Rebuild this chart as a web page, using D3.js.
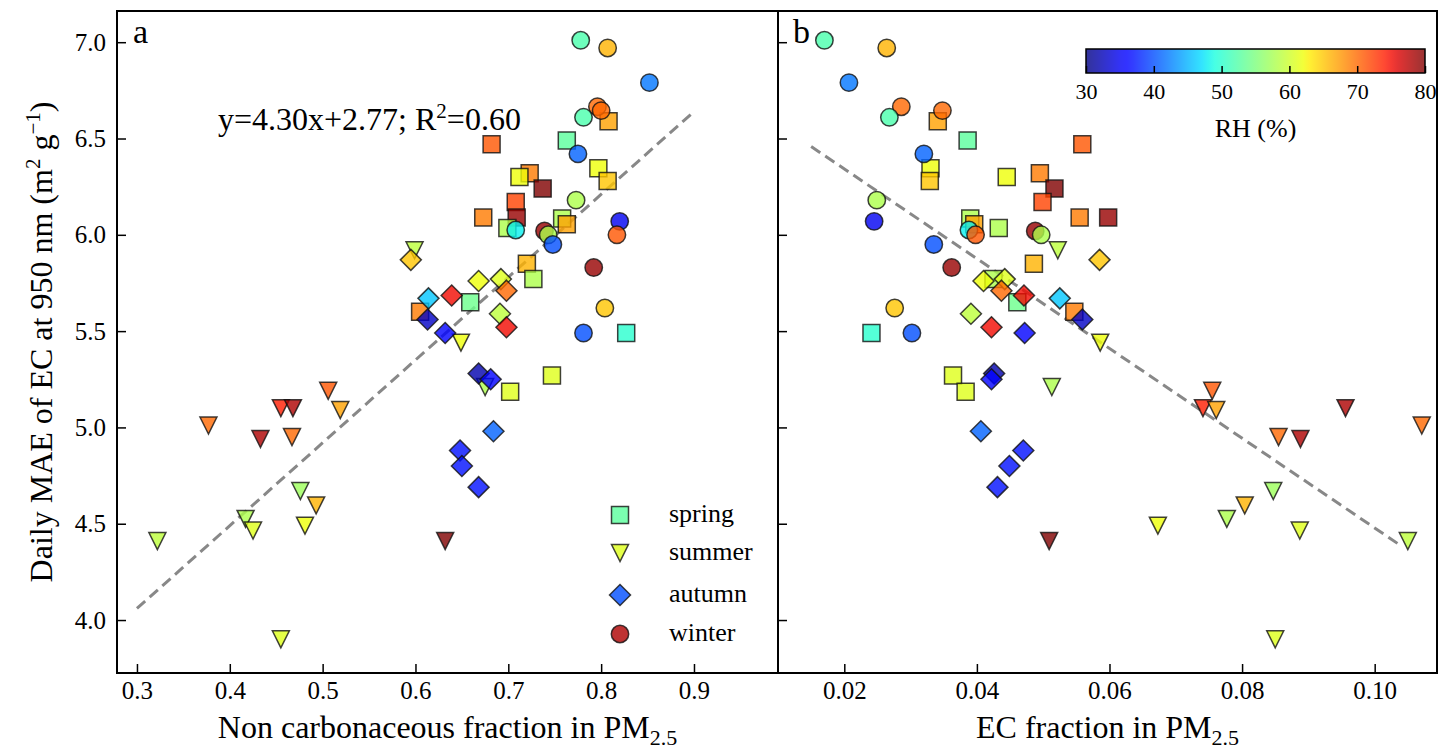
<!DOCTYPE html>
<html>
<head>
<meta charset="utf-8">
<script src="https://cdn.jsdelivr.net/npm/d3@7"></script>
<style>
  body { margin: 0; background: #fff; }
  svg { display: block; font-family: "Liberation Serif", "Times New Roman", serif; }
</style>
</head>
<body>
<svg id="chart" width="1439" height="754"></svg>
<script>
// ---- data: one entry per day, grouped by season ----
const seasons = ["spring", "summer", "autumn", "winter"];

const springNonCarb = [0.808, 0.682, 0.763, 0.797, 0.807, 0.723, 0.712, 0.737, 0.708, 0.673, 0.709, 0.699, 0.758, 0.763, 0.720, 0.727, 0.827, 0.659, 0.605, 0.747, 0.702];
const springEC      = [0.0341, 0.0559, 0.0386, 0.0330, 0.0329, 0.0495, 0.0445, 0.0517, 0.0499, 0.0555, 0.0598, 0.0433, 0.0390, 0.0396, 0.0486, 0.0425, 0.0241, 0.0461, 0.0547, 0.0364, 0.0383];
const springMAE     = [6.59, 6.47, 6.49, 6.345, 6.28, 6.32, 6.30, 6.24, 6.17, 6.09, 6.09, 6.035, 6.085, 6.055, 5.85, 5.77, 5.49, 5.65, 5.60, 5.27, 5.185];
const springRH      = [67, 71, 53, 62, 65, 69, 62, 80, 72, 69, 79, 58, 58, 67, 66, 58, 50, 54, 69, 61, 61];

const summerNonCarb = [0.599, 0.649, 0.675, 0.322, 0.377, 0.433, 0.455, 0.468, 0.467, 0.506, 0.519, 0.476, 0.493, 0.417, 0.425, 0.481, 0.455, 0.632];
const summerEC      = [0.0522, 0.0586, 0.0513, 0.1050, 0.1071, 0.0888, 0.0741, 0.0956, 0.0855, 0.0755, 0.0761, 0.0847, 0.0804, 0.0777, 0.0887, 0.0673, 0.0850, 0.0509];
const summerMAE     = [5.92, 5.44, 5.21, 4.41, 5.01, 4.94, 5.10, 5.10, 4.95, 5.19, 5.09, 4.67, 4.595, 4.525, 4.465, 4.49, 3.90, 4.41];
const summerRH      = [59, 62, 58, 59, 70, 78, 74, 78, 70, 71, 67, 57, 66, 58, 61, 62, 61, 80];

const autumnNonCarb = [0.595, 0.614, 0.613, 0.639, 0.632, 0.668, 0.692, 0.698, 0.691, 0.698, 0.668, 0.681, 0.684, 0.648, 0.650, 0.668];
const autumnEC      = [0.0585, 0.0525, 0.0559, 0.0471, 0.0472, 0.0410, 0.0442, 0.0437, 0.0391, 0.0422, 0.0426, 0.0422, 0.0406, 0.0470, 0.0449, 0.0431];
const autumnMAE     = [5.87, 5.67, 5.56, 5.685, 5.49, 5.76, 5.77, 5.71, 5.59, 5.52, 5.28, 5.25, 4.98, 4.88, 4.80, 4.69];
const autumnRH      = [65, 46, 33, 75, 36, 62, 61, 70, 59, 75, 32, 36, 41, 37, 37, 37];

const winterNonCarb = [0.778, 0.807, 0.852, 0.796, 0.800, 0.781, 0.775, 0.773, 0.820, 0.708, 0.817, 0.739, 0.743, 0.748, 0.792, 0.804, 0.781];
const winterEC      = [0.0170, 0.0264, 0.0207, 0.0286, 0.0348, 0.0268, 0.0320, 0.0249, 0.0245, 0.0388, 0.0398, 0.0488, 0.0497, 0.0335, 0.0362, 0.0276, 0.0302];
const winterMAE     = [7.01, 6.97, 6.79, 6.665, 6.645, 6.61, 6.42, 6.18, 6.07, 6.025, 6.00, 6.02, 6.00, 5.95, 5.83, 5.62, 5.49];
const winterRH      = [52, 66, 42, 70, 70, 52, 41, 58, 35, 48, 71, 79, 58, 40, 79, 65, 40];

// legend swatch RH values
const legendRH = [53, 61, 40, 78];

// tick labels
const yTicks = [4.0, 4.5, 5.0, 5.5, 6.0, 6.5, 7.0];
const xTicksA = [0.3, 0.4, 0.5, 0.6, 0.7, 0.8, 0.9];
const xTicksB = [0.02, 0.04, 0.06, 0.08, 0.10];
const rhTicks = [30, 40, 50, 60, 70, 80];

// least-squares fits
const fitA = { slope: 4.30, intercept: 2.77, from: 0.30, to: 0.90 };
const fitB = { slope: -23.3, intercept: 6.808, from: 0.015, to: 0.104 };

// ---- assemble records ----
const seasonData = {
  spring: [springNonCarb, springEC, springMAE, springRH],
  summer: [summerNonCarb, summerEC, summerMAE, summerRH],
  autumn: [autumnNonCarb, autumnEC, autumnMAE, autumnRH],
  winter: [winterNonCarb, winterEC, winterMAE, winterRH]
};
const records = [];
seasons.forEach(s => {
  const [nc, ec, mae, rh] = seasonData[s];
  nc.forEach((v, i) => records.push({ season: s, nonCarb: v, ec: ec[i], mae: mae[i], rh: rh[i] }));
});

// ---- jet colormap ----
function piece(pts, t) {
  for (let i = 1; i < pts.length; i++) {
    if (t <= pts[i][0]) {
      const [x0, y0] = pts[i - 1], [x1, y1] = pts[i];
      return y0 + (y1 - y0) * (t - x0) / (x1 - x0);
    }
  }
  return pts[pts.length - 1][1];
}
function jet(t) {
  t = Math.max(0, Math.min(1, t));
  const r = piece([[0, 0], [0.35, 0], [0.66, 1], [0.89, 1], [1, 0.5]], t);
  const g = piece([[0, 0], [0.125, 0], [0.375, 1], [0.64, 1], [0.91, 0], [1, 0]], t);
  const b = piece([[0, 0.5], [0.11, 1], [0.34, 1], [0.65, 0], [1, 0]], t);
  return d3.rgb(r * 255, g * 255, b * 255).formatHex();
}
const rhScale = d3.scaleLinear().domain([30, 80]).range([0, 1]).clamp(true);
const rhColor = v => jet(rhScale(v));

// ---- layout ----
const FONT = '"Liberation Serif", "Times New Roman", serif';
const svg = d3.select("#chart");
const plotTop = 11, plotBottom = 673;
const panelA = { x0: 117, x1: 778 };
const panelB = { x0: 778, x1: 1437 };

const y = d3.scaleLinear().domain([3.725, 7.162]).range([plotBottom, plotTop]);
const xA = d3.scaleLinear().domain([0.2785, 0.9905]).range([panelA.x0, panelA.x1]);
const xB = d3.scaleLinear().domain([0.0100, 0.1094]).range([panelB.x0, panelB.x1]);

// marker shapes
const circlePath = d3.path();
circlePath.arc(0, 0, 8.7, 0, 2 * Math.PI);
const markerPath = {
  spring: "M-8.5,-8.5h17v17h-17Z",
  summer: "M0,8.5L-8.5,-8.5L8.5,-8.5Z",
  autumn: "M0,-10.5L10.5,0L0,10.5L-10.5,0Z",
  winter: circlePath.toString() + "Z"
};

const defs = svg.append("defs");
[["clipA", panelA], ["clipB", panelB]].forEach(([id, p]) => {
  defs.append("clipPath").attr("id", id)
    .append("rect").attr("x", p.x0).attr("y", plotTop).attr("width", p.x1 - p.x0).attr("height", plotBottom - plotTop);
});

function styleAxis(g, size = 25) {
  g.attr("font-family", FONT).attr("font-size", size);
  g.select(".domain").remove();
  g.selectAll(".tick line").attr("stroke", "#000").attr("stroke-width", 1.5);
  g.selectAll(".tick text").attr("fill", "#000");
}

// ---- axes ----
svg.append("g").attr("transform", `translate(0,${plotBottom})`)
  .call(d3.axisBottom(xA).tickValues(xTicksA).tickFormat(d3.format(".1f")).tickSizeInner(-9).tickSizeOuter(0).tickPadding(8))
  .call(styleAxis);
svg.append("g").attr("transform", `translate(0,${plotBottom})`)
  .call(d3.axisBottom(xB).tickValues(xTicksB).tickFormat(d3.format(".2f")).tickSizeInner(-9).tickSizeOuter(0).tickPadding(8))
  .call(styleAxis);
svg.append("g").attr("transform", `translate(${panelA.x0},0)`)
  .call(d3.axisLeft(y).tickValues(yTicks).tickFormat(d3.format(".1f")).tickSizeInner(-9).tickSizeOuter(0).tickPadding(11))
  .call(styleAxis);
svg.append("g").attr("transform", `translate(${panelB.x0},0)`)
  .call(d3.axisLeft(y).tickValues(yTicks).tickFormat("").tickSizeInner(-9).tickSizeOuter(0))
  .call(styleAxis);

// ---- regression lines ----
function fitLine(x, fit, clip) {
  svg.append("line")
    .attr("clip-path", `url(#${clip})`)
    .attr("x1", x(fit.from)).attr("y1", y(fit.slope * fit.from + fit.intercept))
    .attr("x2", x(fit.to)).attr("y2", y(fit.slope * fit.to + fit.intercept))
    .attr("stroke", "#888").attr("stroke-width", 3).attr("stroke-dasharray", "11,6");
}
fitLine(xA, fitA, "clipA");
fitLine(xB, fitB, "clipB");

// ---- scatter ----
function scatter(x, key, clip) {
  svg.append("g").attr("clip-path", `url(#${clip})`)
    .selectAll("path").data(records).join("path")
    .attr("d", d => markerPath[d.season])
    .attr("transform", d => `translate(${x(d[key])},${y(d.mae)})`)
    .attr("fill", d => rhColor(d.rh)).attr("fill-opacity", 0.8)
    .attr("stroke", "#111").attr("stroke-opacity", 0.8).attr("stroke-width", 1.5);
}
scatter(xA, "nonCarb", "clipA");
scatter(xB, "ec", "clipB");

// ---- frames ----
[panelA, panelB].forEach(p => {
  svg.append("rect").attr("x", p.x0).attr("y", plotTop).attr("width", p.x1 - p.x0).attr("height", plotBottom - plotTop)
    .attr("fill", "none").attr("stroke", "#000").attr("stroke-width", 2);
});

// ---- panel labels and fit equation ----
svg.append("text").attr("x", 133).attr("y", 43).style("font-size", "34px").text("a");
svg.append("text").attr("x", 793).attr("y", 43).style("font-size", "34px").text("b");

const eq = svg.append("text").attr("x", 218).attr("y", 130).style("font-size", "32px");
eq.append("tspan").text(`y=${fitA.slope.toFixed(2)}x+${fitA.intercept.toFixed(2)}; R`);
eq.append("tspan").attr("dy", -12).style("font-size", "21px").text("2");
eq.append("tspan").attr("dy", 12).text("=0.60");

// ---- axis titles ----
function subTitle(xc, main) {
  const t = svg.append("text").attr("x", xc).attr("y", 738).attr("text-anchor", "middle").style("font-size", "32px");
  t.append("tspan").text(main);
  t.append("tspan").attr("dy", 7).style("font-size", "22px").text("2.5");
}
subTitle((panelA.x0 + panelA.x1) / 2, "Non carbonaceous fraction in PM");
subTitle((panelB.x0 + panelB.x1) / 2, "EC fraction in PM");

const yl = svg.append("text").attr("transform", `translate(52,${(plotTop + plotBottom) / 2}) rotate(-90)`)
  .attr("text-anchor", "middle").style("font-size", "32px");
yl.append("tspan").text("Daily MAE of EC at 950 nm (m");
yl.append("tspan").attr("dy", -12).style("font-size", "21px").text("2");
yl.append("tspan").attr("dy", 12).text(" g");
yl.append("tspan").attr("dy", -12).style("font-size", "21px").text("\u22121");
yl.append("tspan").attr("dy", 12).text(")");

// ---- season legend ----
const legendY = [515, 553, 595, 634];
const legend = svg.append("g");
seasons.forEach((s, i) => {
  legend.append("path").attr("d", markerPath[s])
    .attr("transform", `translate(620,${legendY[i]})`)
    .attr("fill", rhColor(legendRH[i])).attr("fill-opacity", 0.8)
    .attr("stroke", "#111").attr("stroke-opacity", 0.8).attr("stroke-width", 1.5);
  legend.append("text").attr("x", 669).attr("y", legendY[i] + 7).style("font-size", "26px").text(s);
});

// ---- RH colour bar ----
const cb = { x0: 1086, x1: 1425, y0: 49, y1: 73 };
const grad = defs.append("linearGradient").attr("id", "rhGrad").attr("x1", "0%").attr("x2", "100%");
d3.range(0, 1.0001, 0.02).forEach(t => {
  grad.append("stop").attr("offset", `${t * 100}%`).attr("stop-color", jet(t)).attr("stop-opacity", 0.8);
});
svg.append("rect").attr("x", cb.x0).attr("y", cb.y0).attr("width", cb.x1 - cb.x0).attr("height", cb.y1 - cb.y0)
  .attr("fill", "url(#rhGrad)");
const cbScale = d3.scaleLinear().domain([30, 80]).range([cb.x0, cb.x1]);
svg.append("g").attr("transform", `translate(0,${cb.y1})`)
  .call(d3.axisBottom(cbScale).tickValues(rhTicks).tickFormat(d3.format("d")).tickSizeInner(-7).tickSizeOuter(0).tickPadding(10))
  .call(g => styleAxis(g, 22));
svg.append("rect").attr("x", cb.x0).attr("y", cb.y0).attr("width", cb.x1 - cb.x0).attr("height", cb.y1 - cb.y0)
  .attr("fill", "none").attr("stroke", "#000").attr("stroke-width", 1.5);
svg.append("text").attr("x", (cb.x0 + cb.x1) / 2).attr("y", 137).attr("text-anchor", "middle")
  .style("font-size", "26px").text("RH (%)");
</script>
</body>
</html>
